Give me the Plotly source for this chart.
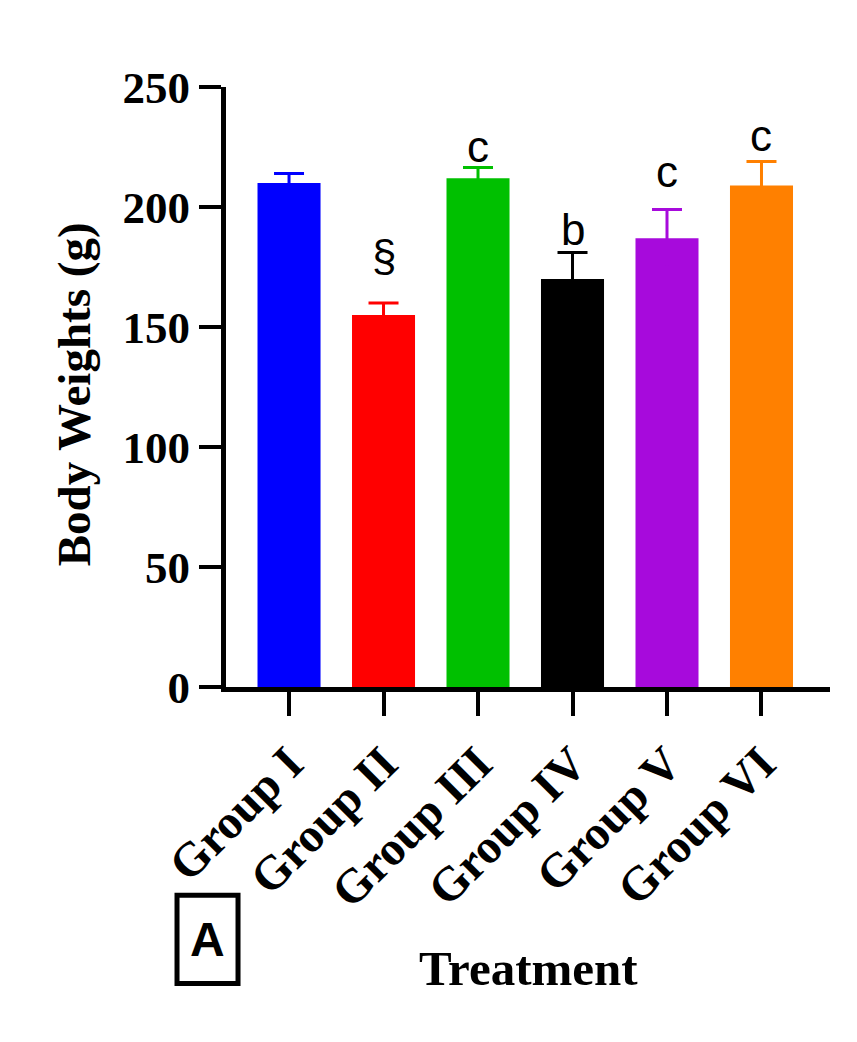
import plotly.graph_objects as go

# Data
groups = ["Group I", "Group II", "Group III", "Group IV", "Group V", "Group VI"]
means = [210, 155, 212, 170, 187, 209]
errors = [4, 5, 4.5, 11, 12, 10]
letters = ["", "§", "c", "b", "c", "c"]
letter_y = [0, 172, 217.5, 183, 207, 222]   # baseline of each letter, in g
colors = ["#0000FF", "#FF0000", "#00C000", "#000000", "#A70ADC", "#FF8000"]

serif = "Liberation Serif, Times New Roman, serif"
sans = "Liberation Sans, Arial, sans-serif"

fig = go.Figure()

# one trace per group so each error bar takes its bar's colour
for g, m, e, c in zip(groups, means, errors, colors):
    fig.add_trace(go.Bar(
        x=[g], y=[m],
        marker=dict(color=c, line=dict(width=0)),
        error_y=dict(type="data", array=[e], color=c, thickness=3, width=15),
        showlegend=False,
        hoverinfo="skip"
    ))

# significance letters above the bars
for g, lab, ly in zip(groups, letters, letter_y):
    if not lab:
        continue
    fig.add_annotation(
        x=g, y=ly, xref="x", yref="y",
        text=lab, showarrow=False,
        yanchor="bottom", yshift=-8,
        font=dict(family=sans, size=44, color="black")
    )

# y-axis title
fig.add_annotation(
    x=-0.252, y=0.4875, xref="paper", yref="paper",
    text="Body Weights (g)", textangle=-90, showarrow=False,
    xanchor="center", yanchor="middle",
    font=dict(family=serif, size=47, color="black", weight="bold")
)

# x-axis title
fig.add_annotation(
    x=0.5, y=-0.469, xref="paper", yref="paper",
    text="Treatment", showarrow=False,
    xanchor="center", yanchor="middle",
    font=dict(family=serif, size=49, color="black", weight="bold")
)

# panel label "A" in a box
fig.add_shape(
    type="rect", xref="paper", yref="paper",
    x0=-0.0811, x1=0.0199, y0=-0.4942, y1=-0.3472,
    line=dict(color="black", width=5), fillcolor="white"
)
fig.add_annotation(
    x=-0.0306, y=-0.4214, xref="paper", yref="paper",
    text="A", showarrow=False,
    xanchor="center", yanchor="middle",
    font=dict(family=sans, size=48, color="black", weight="bold")
)

fig.update_layout(
    width=849, height=1034,
    margin=dict(l=218, r=27, t=79, b=355),
    barmode="overlay", bargap=0.333,
    plot_bgcolor="white", paper_bgcolor="white",
    xaxis=dict(
        type="category", range=[-0.667, 5.725],
        showgrid=False, zeroline=False,
        showline=True, linecolor="black", linewidth=5,
        ticks="outside", ticklen=24, tickwidth=4, tickcolor="black",
        tickangle=-45,
        tickfont=dict(family=serif, size=48, color="black", weight="bold")
    ),
    yaxis=dict(
        range=[0, 250], tickvals=[0, 50, 100, 150, 200, 250],
        showgrid=False, zeroline=False,
        showline=True, linecolor="black", linewidth=5,
        ticks="outside", ticklen=22, tickwidth=4, tickcolor="black",
        ticklabelstandoff=0,
        tickfont=dict(family=serif, size=45, color="black", weight="bold")
    )
)

fig.write_html("out.html")
